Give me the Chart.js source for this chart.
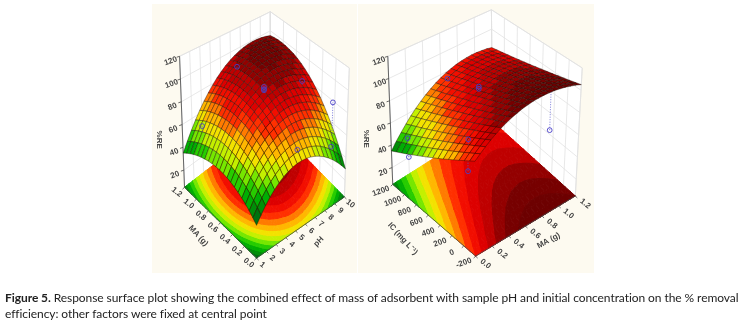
<!DOCTYPE html>
<html>
<head>
<meta charset="utf-8">
<title>Figure 5</title>
<script src="https://cdn.jsdelivr.net/npm/chart.js@4"></script>
<style>
  html, body { margin: 0; background: #fff; overflow: hidden; }
  #wrap { position: relative; width: 747px; height: 326px; }
  .panel { position: absolute; top: 4px; height: 269px; background: #fdfaf0; }
  canvas { position: absolute; left: 0; top: 0; }
  #caption { position: absolute; left: 5px; top: 290px; font: 12px/16px Lato, sans-serif; letter-spacing: -0.07px; color: #222; white-space: nowrap; }
</style>
</head>
<body>
<div id="wrap">
  <div class="panel" style="left:152px;width:205px"></div>
  <div class="panel" style="left:358px;width:236px"></div>
  <canvas id="chart" width="747" height="326"></canvas>
  <div id="caption"><b>Figure 5.</b> Response surface plot showing the combined effect of mass of adsorbent with sample pH and initial concentration on the % removal<br>efficiency: other factors were fixed at central point</div>
</div>
<script>
const reTicks = [20, 40, 60, 80, 100, 120];
const phTicks = [1, 2, 3, 4, 5, 6, 7, 8, 9, 10];
const maTicks = [0, 0.2, 0.4, 0.6, 0.8, 1.0, 1.2];
const icTicks = [-200, 0, 200, 400, 600, 800, 1000, 1200];

// %RE, rows go MA 0 -> 1.2, columns go pH 1 -> 10
const surfacePh = [
  [30,35.7,40.8,45.3,49.2,52.5,55.2,57.3,58.8,59.7,60,59.7,58.8,57.3,55.2,52.5,49.2,45.3,40.8,35.7,30],
  [33.2,39,44.3,49,53,56.5,59.3,61.6,63.2,64.3,64.9,64.8,64.1,62.8,61,58.6,55.5,51.9,47.7,43,37.6],
  [36.1,42.1,47.5,52.3,56.5,60.1,63.1,65.5,67.3,68.5,69.4,69.6,69.1,68,66.4,64.2,61.5,58.2,54.3,49.8,44.8],
  [38.7,44.9,50.4,55.4,59.7,63.5,66.6,69.2,71.1,72.5,73.7,74,73.7,72.9,71.5,69.6,67.1,64,60.4,56.2,51.5],
  [40.9,47.2,52.9,58,62.5,66.4,69.7,72.4,74.5,76,77.5,78,77.9,77.3,76.2,74.4,72.2,69.4,66,62.1,57.7],
  [42.9,49.4,55.2,60.5,65.1,69.2,72.6,75.5,77.7,79.4,81.1,81.8,81.9,81.5,80.5,79,77,74.4,71.3,67.7,63.5],
  [44.5,51.1,57.1,62.5,67.3,71.4,75,78,80.4,82.2,84.2,85.1,85.4,85.2,84.4,83.1,81.3,79,76.1,72.7,68.8],
  [45.9,52.6,58.7,64.2,69.2,73.5,77.2,80.3,82.9,84.8,87,88,88.6,88.5,87.9,86.8,85.3,83.1,80.5,77.3,73.7],
  [46.9,53.7,60,65.6,70.7,75.2,79,82.3,85,87.1,89.5,90.7,91.4,91.5,91.1,90.2,88.8,86.9,84.5,81.5,78.1],
  [47.6,54.6,60.9,66.7,71.9,76.5,80.5,83.9,86.7,89,91.6,92.9,93.8,94.1,93.9,93.2,91.9,90.1,87.9,85.2,82],
  [48,55.1,61.6,67.5,72.8,77.5,81.7,85.2,88.2,90.6,93.3,94.8,95.8,96.3,96.3,95.7,94.7,93,90.9,88.5,85.5],
  [48.1,55.3,61.9,67.9,73.3,78.2,82.5,86.2,89.3,91.8,94.7,96.3,97.5,98.1,98.2,97.8,96.9,95.6,93.7,91.4,88.5],
  [47.9,55.2,61.9,68,73.6,78.6,83,86.8,90,92.7,95.7,97.5,98.8,99.5,99.8,99.6,98.9,97.6,95.9,93.8,91.1],
  [47.4,54.8,61.6,67.8,73.5,78.6,83.1,87,90.4,93.2,96.3,98.3,99.7,100.6,101,101,100.4,99.3,97.8,95.7,93.2],
  [46.5,54,60.9,67.2,72.9,78.2,82.8,86.9,90.4,93.3,96.5,98.6,100.1,101.2,101.8,101.8,101.4,100.4,99,97.2,94.8],
  [45.4,52.9,59.9,66.3,72.2,77.5,82.2,86.4,90.1,93.2,96.4,98.6,100.3,101.5,102.2,102.4,102.1,101.3,100,98.3,96],
  [43.9,51.5,58.5,65,71,76.4,81.3,85.5,89.3,92.5,95.8,98.1,100,101.3,102.1,102.4,102.2,101.6,100.4,98.8,96.7],
  [42.2,49.8,56.9,63.5,69.5,75.1,80,84.4,88.3,91.7,95,97.4,99.4,100.8,101.7,102.2,102.1,101.5,100.5,99,97],
  [40.1,47.8,54.9,61.5,67.6,73.3,78.3,82.8,86.9,90.3,93.6,96.2,98.2,99.7,100.8,101.4,101.4,101,100.1,98.7,96.8],
  [37.7,45.4,52.6,59.2,65.4,71.1,76.2,80.8,85,88.6,91.9,94.5,96.7,98.3,99.5,100.2,100.3,100,99.2,97.9,96.1],
  [35,42.7,49.9,56.6,62.8,68.6,73.8,78.5,82.8,86.5,89.8,92.5,94.8,96.5,97.8,98.6,98.8,98.6,97.9,96.7,95]
];
// %RE, rows go IC -200 -> 1200, columns go MA 0 -> 1.2
const surfaceIc = [
  [80,84,87.7,91.2,94.3,97.2,99.7,102,103.9,105.7,107,108.2,108.9,109.5,109.7,109.7,109.3,108.7,107.7,106.6,105],
  [77.2,81.3,85.1,88.7,91.9,94.9,97.5,99.9,101.9,103.7,105.1,106.3,107.1,107.8,108,108,107.7,107.1,106.2,105,103.5],
  [74.4,78.6,82.5,86.2,89.6,92.6,95.3,97.8,99.9,101.8,103.2,104.5,105.4,106.1,106.4,106.4,106.1,105.6,104.6,103.5,102],
  [71.6,75.9,80,83.7,87.2,90.3,93.2,95.7,97.8,99.8,101.4,102.7,103.6,104.4,104.7,104.8,104.6,104,103.1,102,100.5],
  [68.8,73.2,77.4,81.3,84.9,88,91,93.6,95.8,97.9,99.5,100.9,101.9,102.7,103.1,103.2,103,102.5,101.6,100.5,99],
  [66,70.5,74.8,78.8,82.5,85.8,88.8,91.5,93.8,96,97.6,99.1,100.1,101,101.4,101.6,101.4,100.9,100.1,99,97.5],
  [63.1,67.9,72.2,76.3,80.1,83.5,86.6,89.4,91.8,94,95.7,97.3,98.4,99.3,99.7,100,99.8,99.4,98.5,97.5,96],
  [60.3,65.2,69.6,73.9,77.8,81.3,84.4,87.3,89.8,92.1,93.8,95.5,96.6,97.6,98.1,98.3,98.2,97.8,97,96,94.5],
  [57.5,62.5,67,71.4,75.4,79,82.3,85.2,87.7,90.1,92,93.7,94.9,95.9,96.4,96.7,96.7,96.3,95.5,94.5,93],
  [54.7,59.8,64.5,68.9,73.1,76.7,80.1,83.1,85.7,88.2,90.1,91.9,93.1,94.2,94.8,95.1,95.1,94.7,93.9,93,91.5],
  [51.9,57.1,61.9,66.5,70.7,74.5,77.9,81,83.7,86.3,88.2,90.1,91.4,92.5,93.1,93.5,93.5,93.2,92.4,91.5,90],
  [49.1,54.4,59.3,64,68.4,72.2,75.7,78.9,81.7,84.3,86.3,88.3,89.6,90.8,91.4,91.8,91.9,91.6,90.9,90,88.5],
  [46.3,51.7,56.7,61.5,66,69.9,73.5,76.8,79.7,82.4,84.4,86.5,87.9,89,89.8,90.2,90.3,90.1,89.3,88.4,87],
  [43.4,49,54.2,59,63.6,67.6,71.4,74.7,77.6,80.4,82.6,84.6,86.1,87.4,88.1,88.6,88.8,88.5,87.8,86.9,85.5],
  [40.6,46.3,51.6,56.6,61.3,65.4,69.2,72.6,75.6,78.5,80.7,82.8,84.3,85.7,86.5,87,87.2,87,86.3,85.4,84],
  [37.8,43.7,49,54.1,58.9,63.1,67,70.5,73.6,76.5,78.8,81,82.6,84,84.8,85.4,85.6,85.4,84.8,83.9,82.5],
  [35,41,46.4,51.6,56.5,60.8,64.8,68.4,71.6,74.6,77,79.2,80.8,82.2,83.1,83.7,84,83.8,83.2,82.4,81]
];

// measured runs
const runPh = [5.5, 5.5, 5.5, 5.5, 8.65, 9.55, 1.9, 2.35, 5.5, 8.92];
const runPhMa = [1.02, 0.6, 0.6, 0.6, 0.5, 0.16, 1.02, 0.17, 0.07, 0.07];
const runPhRe = [97, 94, 95, 97, 92, 84, 62, 54, 66, 52];
const runMa = [0.6, 0.6, 0.6, 0.6, 1.14, 0.06, 0.12, 0.12, 0, 0];
const runIc = [1088, 584, 584, 584, 178, 1004, 598, 80, 906, -84];
const runIcRe = [81, 90, 92, 94, 50, 52, 62, 84, 42, 68];

const reFloor = 5, reTop = 120;

const layouts = {
  ph: {
    floor: { f: [255, 261], r: [344, 198], l: [182, 188], b: [269, 120] },
    top: { f: [255, 106], r: [349, 65], l: [177, 53], b: [269, 7] },
    xTicks: phTicks, yTicks: maTicks, xLabel: v => String(v), yLabel: v => v.toFixed(1),
    xOff: [6, 7], yOff: [-8, 5], yRot: 38,
    xTitle: { text: 'pH', x: 318, y: 244, rot: -45 },
    yTitle: { text: 'MA (g)', x: 196, y: 238, rot: 48 },
    zTitleX: 156, zTitleY: 139,
    grid: surfacePh, runX: runPh, runY: runPhMa, runZ: runPhRe
  },
  ic: {
    floor: { f: [477, 259], r: [578, 197], l: [393, 185], b: [494, 120] },
    top: { f: [476, 109], r: [585, 65], l: [388, 53], b: [493, 5] },
    xTicks: maTicks, yTicks: icTicks, xLabel: v => v.toFixed(1), yLabel: v => String(v),
    xOff: [10, 8], yOff: [-12, 7], yRot: -20,
    xTitle: { text: 'MA (g)', x: 551, y: 243, rot: -28 },
    yTitle: { text: 'IC (mg L\u207B\u00B9)', x: 403, y: 241, rot: 48 },
    zTitleX: 366, zTitleY: 138,
    grid: surfaceIc, runX: runMa, runY: runIc, runZ: runIcRe
  }
};

const colorStops = [
  [25, [0, 80, 30]], [35, [0, 125, 10]], [45, [0, 190, 0]], [52, [110, 230, 0]],
  [60, [235, 245, 0]], [66, [255, 200, 0]], [72, [255, 130, 0]], [78, [255, 40, 0]],
  [85, [235, 0, 0]], [92, [195, 0, 0]], [97, [150, 0, 0]], [102, [120, 0, 0]], [112, [100, 0, 0]]
];

function bandColor(z) {
  const mid = Math.floor(z / 5) * 5 + 2.5;
  if (mid <= colorStops[0][0]) return 'rgb(' + colorStops[0][1] + ')';
  for (let i = 1; i < colorStops.length; i++) {
    if (mid <= colorStops[i][0]) {
      const a = colorStops[i - 1], b = colorStops[i];
      const t = (mid - a[0]) / (b[0] - a[0]);
      return 'rgb(' + a[1].map((c, k) => Math.round(c + (b[1][k] - c) * t)) + ')';
    }
  }
  return 'rgb(' + colorStops[colorStops.length - 1][1] + ')';
}

function mix2(p, a, b, c, d, u, v) {
  return (1 - u) * (1 - v) * a[p] + u * (1 - v) * b[p] + (1 - u) * v * c[p] + u * v * d[p];
}

// unit cube -> picture position, eight corners of the plot box
function project(lay, u, v, re) {
  const w = (re - reFloor) / (reTop - reFloor);
  const { floor: fl, top: tp } = lay;
  const x0 = mix2(0, fl.f, fl.r, fl.l, fl.b, u, v), y0 = mix2(1, fl.f, fl.r, fl.l, fl.b, u, v);
  const x1 = mix2(0, tp.f, tp.r, tp.l, tp.b, u, v), y1 = mix2(1, tp.f, tp.r, tp.l, tp.b, u, v);
  return { x: x0 + (x1 - x0) * w, y: y0 + (y1 - y0) * w };
}

function unit(ticks, val) {
  return (val - ticks[0]) / (ticks[ticks.length - 1] - ticks[0]);
}

function shape(points, color, stroke, width) {
  return {
    type: 'scatter', showLine: true, pointRadius: 0, data: points, fill: 'shape',
    backgroundColor: color, borderColor: stroke, borderWidth: width, borderJoinStyle: 'round'
  };
}

function lines(points, color, width, dash) {
  return {
    type: 'scatter', showLine: true, pointRadius: 0, data: points, fill: false,
    borderColor: color, borderWidth: width, borderDash: dash || []
  };
}

const GAP = { x: NaN, y: NaN };

function clipAbove(poly, lim, sign) {
  const out = [];
  for (let i = 0; i < poly.length; i++) {
    const a = poly[i], b = poly[(i + 1) % poly.length];
    const da = (a.z - lim) * sign, db = (b.z - lim) * sign;
    if (da >= 0) out.push(a);
    if (da * db < 0) {
      const t = da / (da - db);
      out.push({ u: a.u + (b.u - a.u) * t, v: a.v + (b.v - a.v) * t, z: lim });
    }
  }
  return out;
}

// contour bands of the floor, stroked a little wider so no seams show between the pieces
function floorBands(lay) {
  const g = lay.grid, nj = g.length - 1, ni = g[0].length - 1, sets = [];
  const node = (i, j) => ({ u: i / ni, v: j / nj, z: g[j][i] });
  for (let lo = 25; lo < 115; lo += 5) {
    const pts = [];
    for (let j = 0; j < nj; j++) {
      for (let i = 0; i < ni; i++) {
        const tris = [[node(i, j), node(i + 1, j), node(i + 1, j + 1)], [node(i, j), node(i + 1, j + 1), node(i, j + 1)]];
        tris.forEach(t => {
          const poly = clipAbove(clipAbove(t, lo, 1), lo + 5, -1);
          if (poly.length > 2) {
            poly.forEach(p => pts.push(project(lay, p.u, p.v, reFloor)));
            pts.push(project(lay, poly[0].u, poly[0].v, reFloor), GAP);
          }
        });
      }
    }
    if (pts.length) {
      const c = bandColor(lo + 1);
      sets.push(shape(pts, c, c, 1));
    }
  }
  return sets;
}

function walls(lay) {
  const c = (u, v, z) => project(lay, u, v, z);
  const out = [
    shape([c(0, 1, reFloor), c(1, 1, reFloor), c(1, 1, reTop), c(0, 1, reTop), c(0, 1, reFloor)], '#fff', '#ddd', 0.8),
    shape([c(1, 1, reFloor), c(1, 0, reFloor), c(1, 0, reTop), c(1, 1, reTop), c(1, 1, reFloor)], '#fff', '#ddd', 0.8)
  ];
  const pts = [];
  reTicks.forEach(z => pts.push(c(0, 1, z), c(1, 1, z), c(1, 0, z), GAP));
  lay.xTicks.forEach(t => { const u = unit(lay.xTicks, t); pts.push(c(u, 1, reFloor), c(u, 1, reTop), GAP); });
  lay.yTicks.forEach(t => { const v = unit(lay.yTicks, t); pts.push(c(1, v, reFloor), c(1, v, reTop), GAP); });
  out.push(lines(pts, '#e2e2e2', 0.8));
  return out;
}

function axes(lay) {
  const c = (u, v, z) => project(lay, u, v, z);
  const pts = [c(0, 1, reFloor), c(0, 0, reFloor), c(1, 0, reFloor), GAP, c(0, 1, reFloor), c(0, 1, reTop), GAP];
  reTicks.forEach(z => { const p = c(0, 1, z); pts.push(p, { x: p.x - 3, y: p.y + 1 }, GAP); });
  lay.xTicks.forEach(t => { const p = c(unit(lay.xTicks, t), 0, reFloor); pts.push(p, { x: p.x + 2, y: p.y + 2 }, GAP); });
  lay.yTicks.forEach(t => { const p = c(0, unit(lay.yTicks, t), reFloor); pts.push(p, { x: p.x - 2, y: p.y + 2 }, GAP); });
  return lines(pts, '#444', 0.8);
}

function surfaceAt(lay, u, v) {
  const g = lay.grid, nj = g.length - 1, ni = g[0].length - 1;
  const i = Math.min(Math.floor(u * ni), ni - 1), j = Math.min(Math.floor(v * nj), nj - 1);
  const s = u * ni - i, t = v * nj - j;
  return g[j][i] * (1 - s) * (1 - t) + g[j][i + 1] * s * (1 - t) + g[j + 1][i] * (1 - s) * t + g[j + 1][i + 1] * s * t;
}

function runSets(lay, above) {
  const marks = [], drops = [];
  lay.runZ.forEach((z, k) => {
    const u = unit(lay.xTicks, lay.runX[k]), v = unit(lay.yTicks, lay.runY[k]);
    const zs = surfaceAt(lay, u, v);
    if ((z >= zs) !== above) return;
    marks.push(project(lay, u, v, z));
    drops.push(project(lay, u, v, z), project(lay, u, v, zs), GAP);
  });
  return [
    lines(drops, '#5a5ad0', 0.8, [1, 1.5]),
    { type: 'scatter', data: marks, pointRadius: 2.4, pointStyle: 'circle', pointBorderWidth: 0.9,
      pointBorderColor: '#4a3fc8', pointBackgroundColor: 'rgba(0,0,0,0)', showLine: false }
  ];
}

function surface(lay) {
  const g = lay.grid, nj = g.length - 1, ni = g[0].length - 1, cells = [];
  for (let j = 0; j < nj; j++) {
    for (let i = 0; i < ni; i++) {
      const n = (a, b) => project(lay, a / ni, b / nj, g[b][a]);
      const mean = (g[j][i] + g[j][i + 1] + g[j + 1][i] + g[j + 1][i + 1]) / 4;
      cells.push({ d: i + j, set: shape([n(i, j), n(i + 1, j), n(i + 1, j + 1), n(i, j + 1), n(i, j)], bandColor(mean), 'rgba(25,10,0,0.8)', 0.5) });
    }
  }
  return cells.sort((a, b) => b.d - a.d).map(c => c.set);
}

function panelSets(lay) {
  return [...walls(lay), ...floorBands(lay), axes(lay), ...runSets(lay, false), ...surface(lay), ...runSets(lay, true)];
}

const labelPlugin = {
  id: 'boxLabels',
  afterDatasetsDraw(chart) {
    const { ctx, scales: { x: sx, y: sy } } = chart;
    const text = (str, x, y, rot, font) => {
      ctx.save();
      ctx.translate(sx.getPixelForValue(x), sy.getPixelForValue(y));
      ctx.rotate(rot * Math.PI / 180);
      ctx.font = font;
      ctx.fillStyle = '#444';
      ctx.textAlign = 'center';
      ctx.textBaseline = 'middle';
      ctx.fillText(str, 0, 0);
      ctx.restore();
    };
    const tickFont = 'bold 8px "Liberation Sans"';
    Object.values(layouts).forEach(lay => {
      reTicks.forEach(z => {
        const p = project(lay, 0, 1, z);
        text(String(z), p.x - 9, p.y + 5, -20, tickFont);
      });
      lay.xTicks.forEach(t => {
        const p = project(lay, unit(lay.xTicks, t), 0, reFloor);
        text(lay.xLabel(t), p.x + lay.xOff[0], p.y + lay.xOff[1], 38, tickFont);
      });
      lay.yTicks.forEach(t => {
        const p = project(lay, 0, unit(lay.yTicks, t), reFloor);
        text(lay.yLabel(t), p.x + lay.yOff[0], p.y + lay.yOff[1], lay.yRot, tickFont);
      });
      text(lay.xTitle.text, lay.xTitle.x, lay.xTitle.y, lay.xTitle.rot, tickFont);
      text(lay.yTitle.text, lay.yTitle.x, lay.yTitle.y, lay.yTitle.rot, tickFont);
      text('%RE', lay.zTitleX, lay.zTitleY, 90, tickFont);
    });
  }
};

// Chart.js paints the first dataset on top, so the back-to-front list gets reversed
const datasets = [...panelSets(layouts.ph), ...panelSets(layouts.ic)].reverse();

new Chart(document.getElementById('chart'), {
  type: 'scatter',
  data: { datasets },
  plugins: [labelPlugin],
  options: {
    responsive: false,
    animation: false,
    events: [],
    layout: { padding: 0 },
    plugins: { legend: { display: false }, tooltip: { enabled: false } },
    scales: {
      x: { type: 'linear', min: 0, max: 747, display: false },
      y: { type: 'linear', min: 0, max: 326, reverse: true, display: false }
    }
  }
});
</script>
</body>
</html>
